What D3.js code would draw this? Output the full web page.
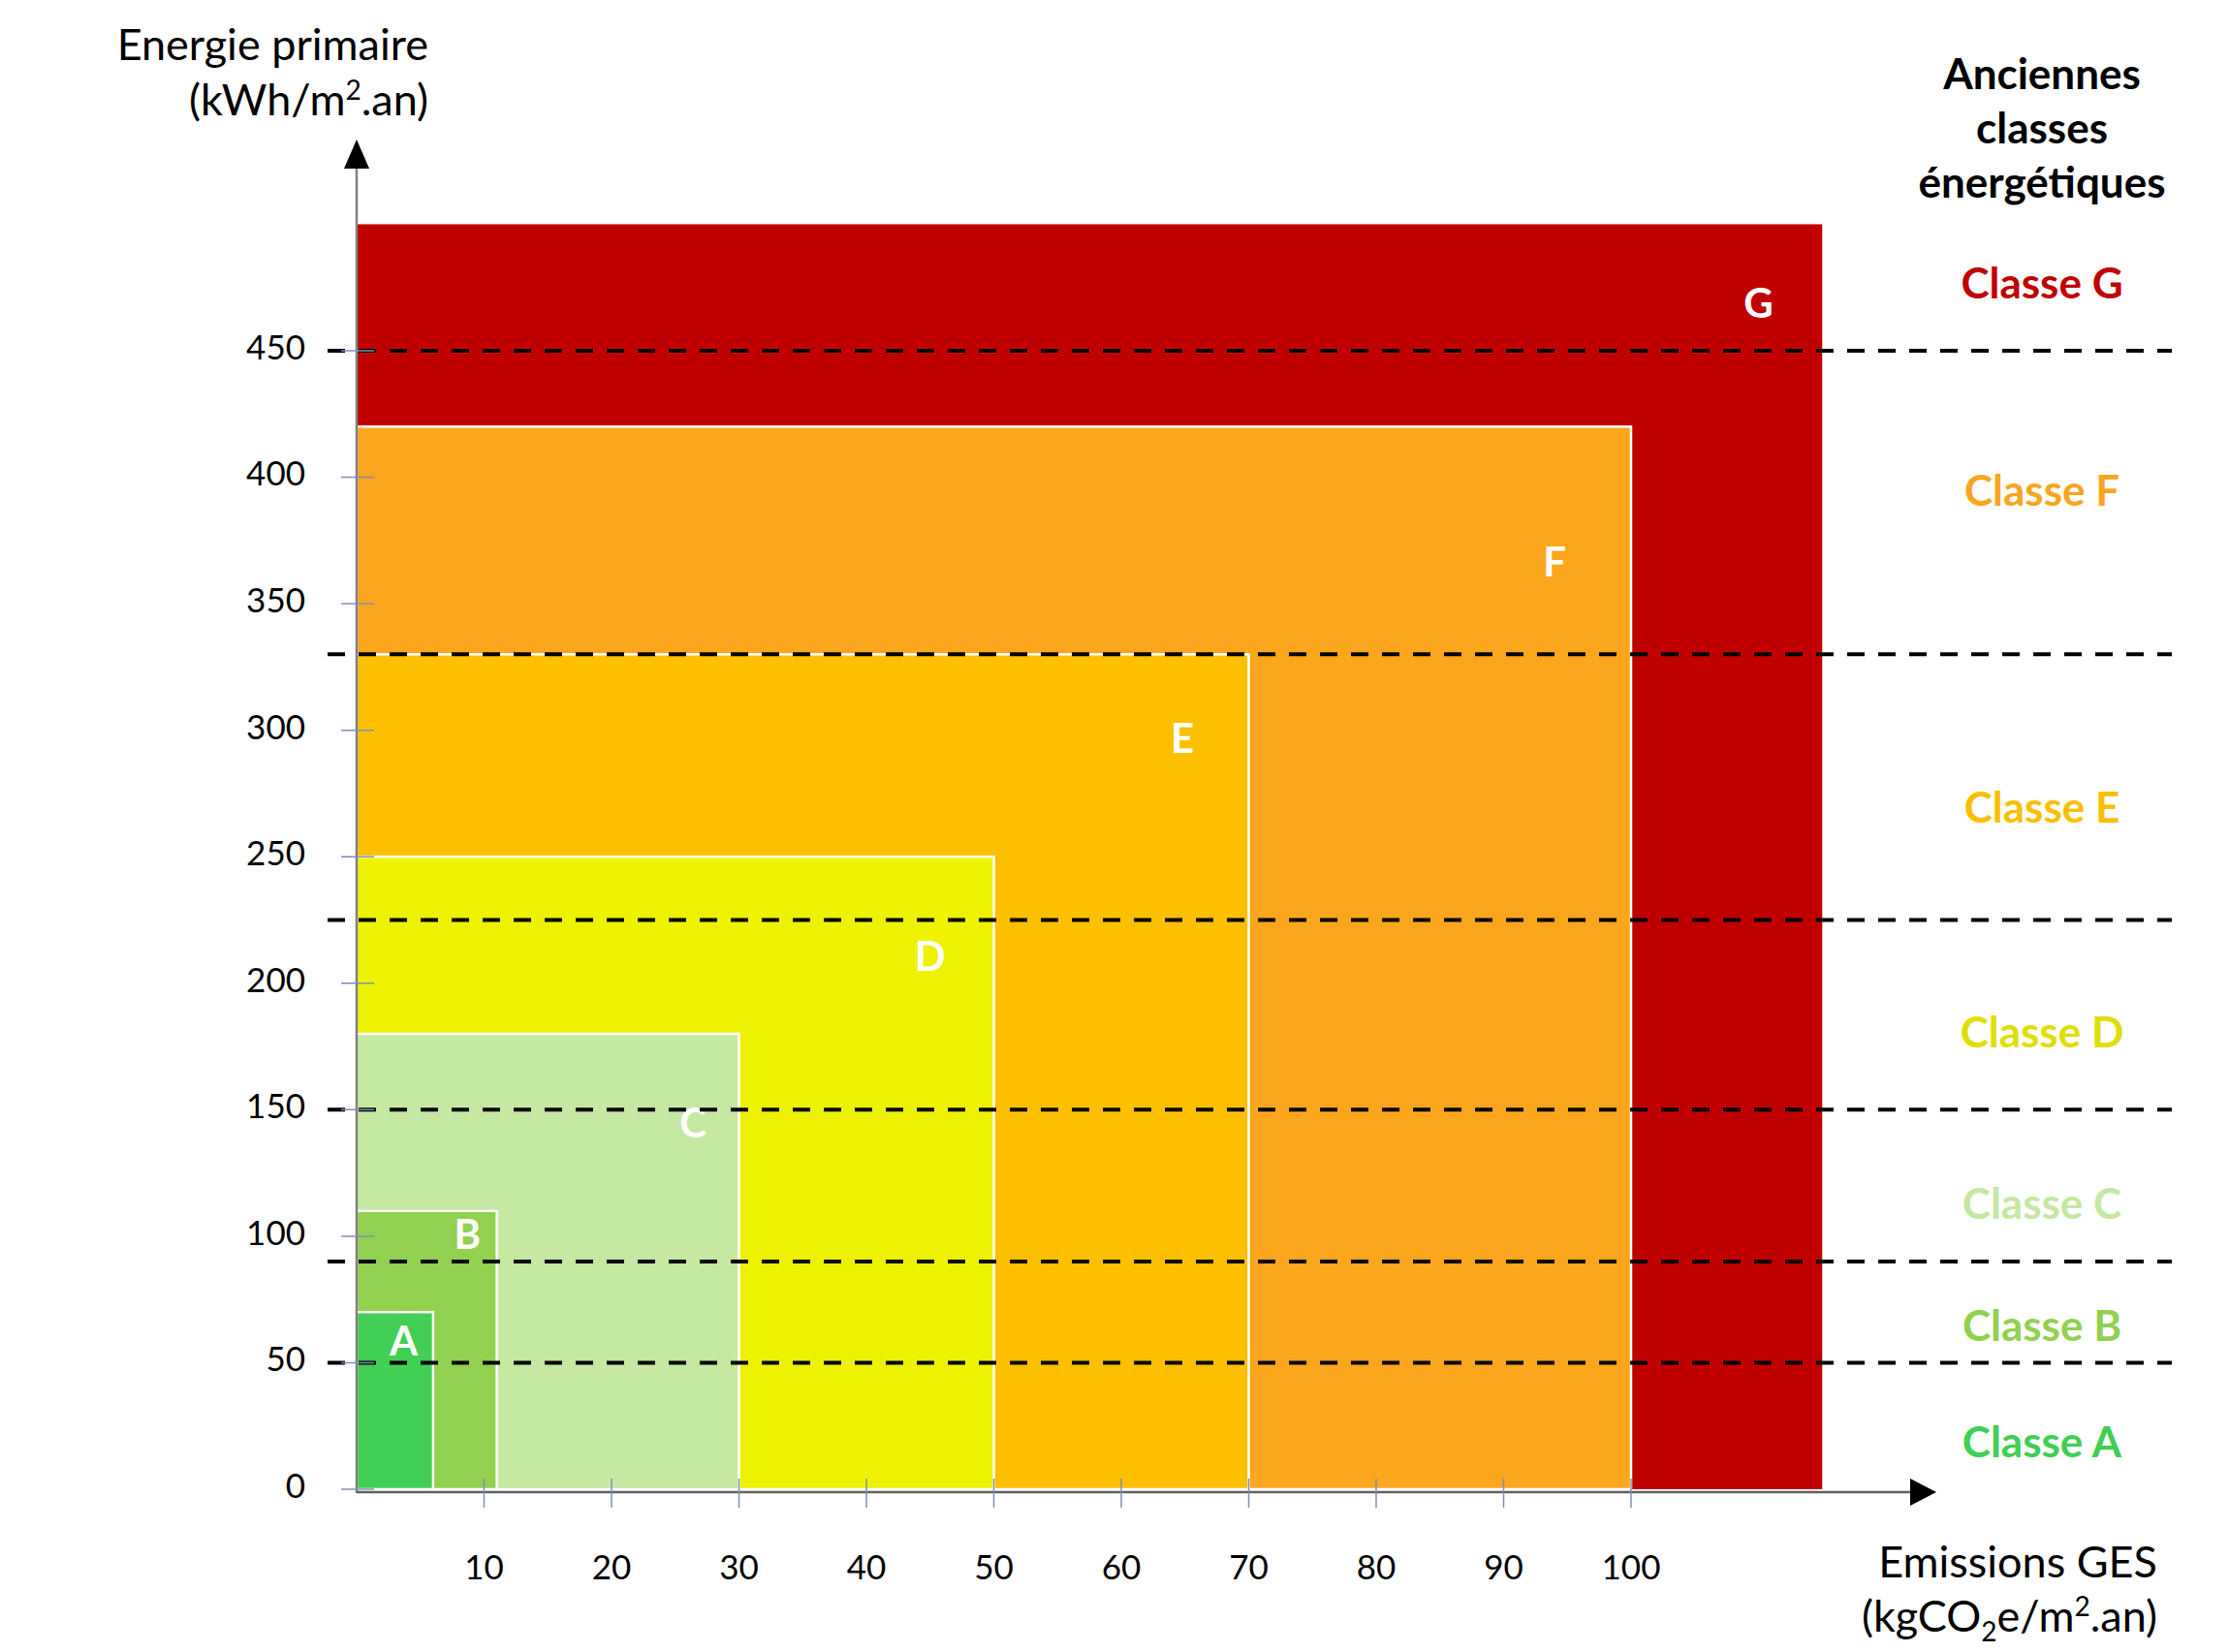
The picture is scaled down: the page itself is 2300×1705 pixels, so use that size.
<!DOCTYPE html>
<html><head><meta charset="utf-8">
<script src="https://cdn.jsdelivr.net/npm/d3@7"></script>
<style>body{margin:0;background:#fff}svg{font-family:Lato,"Open Sans",sans-serif}</style>
</head><body><div id="graph"></div>
<script>
// classes (nouveau DPE) : limites x (GES) et y (energie)
var classes = ["A","B","C","D","E","F","G"];
var gesMax = [6, 11, 30, 50, 70, 100, 115];
var epMax = [70, 110, 180, 250, 330, 420, 500];
var colors = ["#40cf54","#92d050","#c5e8a2","#eef200","#fdc000","#fca61d","#c00000"];
var letterX = [3.7, 8.7, 26.4, 45, 64.8, 94, 110];
var letterY = [57, 99, 143, 209, 295, 365, 467];
// anciennes classes
var oldLimits = [50, 90, 150, 225, 330, 450];
var oldLabels = ["Classe A","Classe B","Classe C","Classe D","Classe E","Classe F","Classe G"];
var oldLabelColors = ["#40cf54","#92d050","#c5e8a2","#dede00","#fcbf00","#f9a51f","#c00000"];
var oldLabelY = [17, 63, 111, 179, 268, 393, 475];
var xTicks = [10,20,30,40,50,60,70,80,90,100];
var yTicks = [0,50,100,150,200,250,300,350,400,450];

var W = 2300, H = 1705;
var svg = d3.select("#graph").append("svg").attr("width", W).attr("height", H);
var x = d3.scaleLinear().domain([0,100]).range([368,1683]);
var y = d3.scaleLinear().domain([0,450]).range([1537,362]);

// rectangles, du plus grand au plus petit
var idx = d3.range(classes.length).reverse();
svg.selectAll("rect.cls").data(idx).enter().append("rect")
  .attr("x", x(0))
  .attr("y", i => y(epMax[i]))
  .attr("width", i => x(gesMax[i]) - x(0))
  .attr("height", i => y(0) - y(epMax[i]))
  .attr("fill", i => colors[i])
  .attr("stroke", i => i == 6 ? "none" : "#fff")
  .attr("stroke-width", 2.5);

svg.selectAll("text.letter").data(idx).enter().append("text")
  .attr("x", i => x(letterX[i])).attr("y", i => y(letterY[i]))
  .attr("text-anchor","middle").attr("dominant-baseline","middle")
  .attr("fill","#fff").attr("font-weight","bold").attr("font-size",42)
  .text(i => classes[i]);

// lignes pointillees
svg.selectAll("line.old").data(oldLimits).enter().append("line")
  .attr("x1",338).attr("x2",2241)
  .attr("y1", d => y(d)).attr("y2", d => y(d))
  .attr("stroke","#000").attr("stroke-width",4).attr("stroke-dasharray","18,14");

// axes
svg.append("line").attr("x1",x(0)).attr("x2",x(0)).attr("y1",y(0)+4).attr("y2",165)
  .attr("stroke","#808080").attr("stroke-width",2.5);
svg.append("path").attr("d",`M${x(0)},144 l-13,30 h26 z`).attr("fill","#000");
svg.append("line").attr("x1",x(0)).attr("x2",1975).attr("y1",y(0)+3).attr("y2",y(0)+3)
  .attr("stroke","#606060").attr("stroke-width",2.5);
svg.append("path").attr("d",`M1998,${y(0)+3} l-27,-14 v28 z`).attr("fill","#000");

var tickCol = "#7f8fb5";
svg.selectAll("line.xt").data(xTicks).enter().append("line")
  .attr("x1", d => x(d)).attr("x2", d => x(d))
  .attr("y1", y(0)-11).attr("y2", y(0)+19).attr("stroke",tickCol).attr("stroke-width",1.5);
svg.selectAll("line.yt").data(yTicks).enter().append("line")
  .attr("x1", x(0)-16).attr("x2", x(0)+18)
  .attr("y1", d => y(d)).attr("y2", d => y(d)).attr("stroke",tickCol).attr("stroke-width",1.5);

svg.selectAll("text.xl").data(xTicks).enter().append("text")
  .attr("x", d => x(d)).attr("y", 1630).attr("text-anchor","middle")
  .attr("font-size",35).text(d => d);
svg.selectAll("text.yl").data(yTicks).enter().append("text")
  .attr("x", 315).attr("y", d => y(d)).attr("dominant-baseline","middle")
  .attr("text-anchor","end").attr("font-size",35).text(d => d);

// titres des axes
var yt = svg.append("text").attr("text-anchor","end").attr("font-size",45);
yt.append("tspan").attr("x",442).attr("y",62).text("Energie primaire");
var yt2 = svg.append("text").attr("text-anchor","end").attr("font-size",45).attr("x",442).attr("y",119);
yt2.append("tspan").text("(kWh/m");
yt2.append("tspan").attr("font-size",28).attr("dy",-16).text("2");
yt2.append("tspan").attr("dy",16).text(".an)");

svg.append("text").attr("text-anchor","end").attr("font-size",45).attr("x",2226).attr("y",1628).text("Emissions GES");
var xt = svg.append("text").attr("text-anchor","end").attr("font-size",45).attr("x",2226).attr("y",1684);
xt.append("tspan").text("(kgCO");
xt.append("tspan").attr("font-size",28).attr("dy",10).text("2");
xt.append("tspan").attr("dy",-10).text("e/m");
xt.append("tspan").attr("font-size",28).attr("dy",-16).text("2");
xt.append("tspan").attr("dy",16).text(".an)");

// legende anciennes classes
["Anciennes","classes","énergétiques"].forEach(function(t,i){
  svg.append("text").attr("x",2107).attr("y",92+i*56).attr("text-anchor","middle")
    .attr("font-size",44).attr("font-weight","bold").text(t);
});
svg.selectAll("text.old").data(oldLabels).enter().append("text")
  .attr("x",2107).attr("y",(d,i) => y(oldLabelY[i])).attr("dominant-baseline","middle")
  .attr("text-anchor","middle").attr("font-size",44).attr("font-weight","bold")
  .attr("fill",(d,i) => oldLabelColors[i]).text(d => d);
</script></body></html>
